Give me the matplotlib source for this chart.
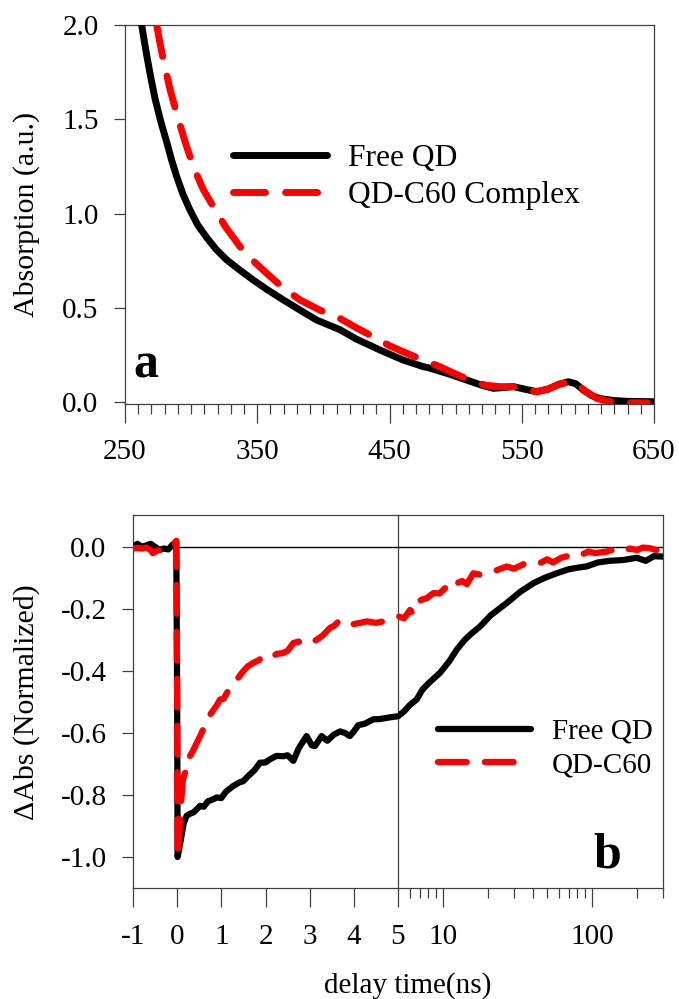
import matplotlib
matplotlib.use('Agg')
import matplotlib.pyplot as plt
import numpy as np
from matplotlib.ticker import LogLocator, NullFormatter, FixedLocator, FixedFormatter

plt.rcParams['font.family'] = ['Liberation Serif', 'DejaVu Serif']
plt.rcParams['axes.unicode_minus'] = False

# ---------------- data: panel a (absorption) ----------------
wl_free = [262.6, 264, 266.4, 269, 272.7, 277, 281.5, 285, 289.1, 294, 299.1, 305,
           311.8, 319, 326.9, 337, 347, 358, 369.7, 382, 394.9, 412.5, 425, 442.8,
           460, 475.5, 480, 495, 508.3, 520, 528.5, 536, 543.6, 552, 561.2, 570,
           578, 585.2, 591, 596.5, 603, 609, 619, 630, 640, 650]
abs_free = [2.0, 1.94, 1.84, 1.74, 1.61, 1.49, 1.38, 1.29, 1.196, 1.10, 1.02, 0.94,
            0.873, 0.81, 0.755, 0.70, 0.648, 0.595, 0.543, 0.49, 0.436, 0.385, 0.335, 0.277,
            0.225, 0.189, 0.182, 0.15, 0.118, 0.09, 0.074, 0.078, 0.083, 0.07, 0.056, 0.07,
            0.095, 0.109, 0.098, 0.065, 0.035, 0.02, 0.01, 0.005, 0.004, 0.003]

wl_c60 = [274, 276, 279, 284, 289.1, 295, 301.6, 309, 316.8, 326, 337, 347, 357.1,
          369, 382.3, 397, 412.5, 425, 437.7, 450, 463, 475, 488, 500, 513.4, 523,
          533.6, 543.6, 552, 561, 570, 578, 586, 592, 598, 607, 615, 625, 635, 645]
abs_c60 = [2.0, 1.92, 1.815, 1.66, 1.53, 1.39, 1.25, 1.13, 1.037, 0.93, 0.825, 0.75, 0.684,
           0.61, 0.543, 0.49, 0.445, 0.395, 0.348, 0.30, 0.26, 0.225, 0.189, 0.15, 0.109, 0.09,
           0.083, 0.083, 0.07, 0.056, 0.07, 0.095, 0.109, 0.095, 0.06, 0.02, 0.005, 0.0, -0.003, -0.003]

# ---------------- data: panel b (transient absorption) ----------------
t_free = [-1.0, -0.9, -0.8, -0.7, -0.6, -0.5, -0.4, -0.3, -0.2, -0.1, -0.02, 0.0, 0.01,
          0.05, 0.1, 0.15, 0.215, 0.3, 0.37, 0.45, 0.52, 0.6, 0.7, 0.8, 0.895, 1.0, 1.1,
          1.27, 1.4, 1.5, 1.6, 1.75, 1.875, 2.0, 2.1, 2.25, 2.4, 2.5, 2.63, 2.75, 2.93,
          3.05, 3.12, 3.27, 3.4, 3.55, 3.69, 3.8, 3.91, 4.0, 4.1, 4.25, 4.44, 4.6, 4.8,
          5.0, 5.5, 6.0, 6.67, 7.3, 8.0, 9.57, 11.0, 12.4, 14.0, 15.5, 17.8, 21.0, 26.8,
          33.0, 40.5, 48.0, 58.0, 70.0, 80.0, 92.0, 110.0, 130.0, 163.0, 200.0, 230.0,
          260.0, 300.0]
dA_free = [0.0, 0.01, 0.0, 0.005, 0.01, 0.0, -0.01, -0.005, -0.008, 0.008, 0.015, -0.5, -1.0,
           -0.97, -0.93, -0.89, -0.867, -0.86, -0.856, -0.845, -0.835, -0.838, -0.82, -0.815,
           -0.808, -0.81, -0.79, -0.771, -0.76, -0.755, -0.74, -0.72, -0.696, -0.695, -0.685,
           -0.674, -0.675, -0.672, -0.69, -0.65, -0.61, -0.64, -0.642, -0.61, -0.625, -0.605,
           -0.595, -0.6, -0.61, -0.595, -0.575, -0.57, -0.556, -0.555, -0.55,
           -0.546, -0.53, -0.51, -0.492, -0.46, -0.44, -0.406, -0.37, -0.331, -0.30, -0.28,
           -0.256, -0.22, -0.181, -0.145, -0.117, -0.10, -0.085, -0.072, -0.067, -0.063,
           -0.05, -0.045, -0.042, -0.035, -0.045, -0.03, -0.031]

t_c60 = [-1.0, -0.9, -0.8, -0.7, -0.6, -0.55, -0.45, -0.4, -0.3, -0.2, -0.1, -0.02, 0.0,
         0.01, 0.04, 0.07, 0.1, 0.13, 0.18, 0.24, 0.29, 0.35, 0.45, 0.52, 0.6, 0.67, 0.8,
         0.9, 0.97, 1.05, 1.15, 1.35, 1.5, 1.6, 1.72, 1.85, 1.95, 2.1, 2.25, 2.4, 2.5, 2.63,
         2.75, 2.85, 3.0, 3.15, 3.3, 3.46, 3.55, 3.69, 3.8, 3.95, 4.14, 4.3, 4.5, 4.67, 4.85,
         5.0, 5.5, 6.02, 6.3, 6.67, 7.2, 7.8, 8.63, 9.5, 10.5, 11.5, 12.4, 13.5, 14.5, 16.0,
         18.0, 20.0, 23.0, 26.8, 30.0, 35.0, 40.0, 44.9, 50.0, 55.0, 62.0, 68.0, 75.1, 85.0,
         95.0, 105.0, 125.9, 140.0, 160.0, 180.0, 200.0, 220.0, 245.0, 270.0, 290.0, 300.0]
dA_c60 = [-0.005, -0.003, -0.005, -0.002, -0.01, -0.02, -0.012, -0.01, -0.005, 0.0, 0.005,
          0.02, -0.5, -1.0, -0.95, -0.85, -0.803, -0.75, -0.728, -0.72, -0.674, -0.66, -0.63,
          -0.61, -0.585, -0.556, -0.53, -0.51, -0.492, -0.49, -0.465, -0.428, -0.40, -0.385,
          -0.374, -0.365, -0.353, -0.36, -0.345, -0.342, -0.335, -0.31, -0.305, -0.315, -0.31,
          -0.30, -0.285, -0.261, -0.255, -0.235, -0.24, -0.25, -0.245, -0.24, -0.245, -0.24,
          -0.23, -0.224, -0.23, -0.203, -0.215, -0.181, -0.17, -0.165, -0.149, -0.15, -0.13,
          -0.14, -0.117, -0.11, -0.12, -0.085, -0.09, -0.08, -0.075, -0.063, -0.07, -0.055,
          -0.06, -0.052, -0.04, -0.05, -0.035, -0.03, -0.02, -0.025, -0.015, -0.02, -0.015,
          -0.008, -0.015, -0.005, -0.01, -0.002, -0.004, -0.01, -0.012, -0.02]

labels_a = ['Free QD', 'QD-C60 Complex']
labels_b = ['Free QD', 'QD-C60']
xticks_a = [250, 350, 450, 550, 650]
yticks_a = [0.0, 0.5, 1.0, 1.5, 2.0]
xticks_lin = [-1, 0, 1, 2, 3, 4, 5]
xticks_log = [10, 100]
yticks_b = [-1.0, -0.8, -0.6, -0.4, -0.2, 0.0]

# ---------------- figure ----------------
W, H = 679, 999
fig = plt.figure(figsize=(W / 100, H / 100), dpi=100)


def rect(l, t, r, b):
    return [l / W, 1 - b / H, (r - l) / W, (b - t) / H]


SP = '#404040'
TICKFS = 21
LW = 5
DASH = (4.6, 2.9)

# ---- panel a ----
ax1 = fig.add_axes(rect(125, 25, 654, 404))
ax1.plot(wl_free, abs_free, color='black', lw=LW, solid_capstyle='round',
         solid_joinstyle='round', label=labels_a[0], zorder=3)
ax1.plot(wl_c60, abs_c60, color='#ff0000', lw=LW, dashes=DASH, dash_capstyle='round',
         label=labels_a[1], zorder=4)
ax1.set_xlim(250, 650)
ax1.set_ylim(-0.009, 2.0)
ax1.set_xticks(xticks_a)
ax1.set_xticklabels([str(v) for v in xticks_a])
ax1.set_xticks(np.arange(260, 650, 10), minor=True)
ax1.set_yticks(yticks_a)
ax1.set_yticklabels(['%.1f' % v for v in yticks_a])
for s in ax1.spines.values():
    s.set_color(SP)
    s.set_linewidth(0.9)
ax1.tick_params(axis='x', which='major', direction='out', length=14, width=0.9,
                color=SP, labelsize=TICKFS, pad=11)
ax1.tick_params(axis='x', which='minor', direction='out', length=7, width=0.9, color=SP)
ax1.tick_params(axis='y', which='major', direction='out', length=8, width=0.9,
                color=SP, labelsize=TICKFS, pad=11)
leg1 = ax1.legend(loc='center left', bbox_to_anchor=(0.204, 0.599), frameon=False,
                  fontsize=22.7, handlelength=3.0, handletextpad=0.65,
                  labelspacing=0.28, borderpad=0, borderaxespad=0)

# ---- panel b ----
axL = fig.add_axes(rect(133, 515, 398, 888))
axR = fig.add_axes(rect(398, 515, 663, 888), sharey=axL)
axR.patch.set_visible(False)

t_f = np.array(t_free)
t_c = np.array(t_c60)
d_f = np.array(dA_free)
d_c = np.array(dA_c60)

for ax, mf, mc in [(axL, t_f <= 6, t_c <= 6), (axR, t_f >= 4.5, t_c >= 4.5)]:
    ax.axhline(0, color='black', lw=1.0, zorder=1)
    ax.plot(t_f[mf], d_f[mf], color='black', lw=4.5, solid_capstyle='round',
            solid_joinstyle='round', label=labels_b[0], zorder=3)
    ax.plot(t_c[mc], d_c[mc], color='#ff0000', lw=4.5, dashes=DASH,
            dash_capstyle='round', label=labels_b[1], zorder=4)
    for s in ax.spines.values():
        s.set_color(SP)
        s.set_linewidth(0.9)

axL.spines['right'].set_zorder(5)
axL.set_xlim(-1, 5)
axL.set_ylim(-1.1, 0.103)
axL.set_xticks(xticks_lin)
axL.set_xticklabels([str(v) for v in xticks_lin])
axL.set_yticks(yticks_b)
axL.set_yticklabels(['%.1f' % v for v in yticks_b])
axL.tick_params(axis='x', which='major', direction='out', length=14, width=0.9,
                color=SP, labelsize=TICKFS, pad=12)
axL.tick_params(axis='y', which='major', direction='out', length=8, width=0.9,
                color=SP, labelsize=TICKFS, pad=11)

axR.set_xscale('log')
axR.set_xlim(5, 300)
axR.xaxis.set_major_locator(FixedLocator(xticks_log))
axR.xaxis.set_major_formatter(FixedFormatter([str(v) for v in xticks_log]))
axR.set_xticks([6, 7, 8, 9, 20, 30, 40, 50, 60, 70, 80, 90, 200, 300], minor=True)
axR.xaxis.set_minor_formatter(NullFormatter())
axR.spines['left'].set_visible(False)
axR.tick_params(axis='y', which='both', left=False, labelleft=False)
axR.tick_params(axis='x', which='major', direction='out', length=14, width=0.9,
                color=SP, labelsize=TICKFS, pad=12)
axR.tick_params(axis='x', which='minor', direction='out', length=7, width=0.9, color=SP)

leg2 = axR.legend(loc='center left', bbox_to_anchor=(0.151, 0.374), frameon=False,
                  fontsize=21, handlelength=3.2, handletextpad=0.7,
                  labelspacing=0.25, borderpad=0, borderaxespad=0)

# ---- labels ----
fig.text(27 / W, 1 - 214 / H, 'Absorption (a.u.)', rotation=90, ha='center',
         va='center', fontsize=21.5)
fig.text(27 / W, 1 - 702 / H, '\u0394Abs (Normalized)', rotation=90, ha='center',
         va='center', fontsize=21.5)
fig.text(407.5 / W, 1 - 993 / H, 'delay time(ns)', ha='center', va='baseline',
         fontsize=21)
fig.text(133 / W, 1 - 378 / H, 'a', ha='left', va='baseline', fontsize=36,
         fontweight='bold')
fig.text(593 / W, 1 - 868 / H, 'b', ha='left', va='baseline', fontsize=36,
         fontweight='bold')

fig.savefig('out.png', dpi=100)
